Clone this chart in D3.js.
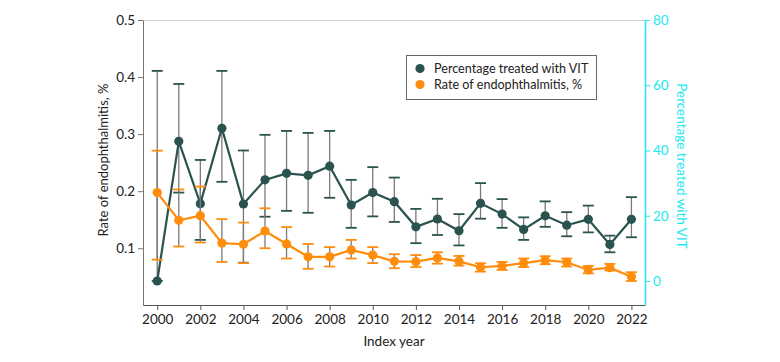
<!DOCTYPE html>
<html><head><meta charset="utf-8">
<script src="https://cdn.jsdelivr.net/npm/d3@7"></script>
<style>
html,body{margin:0;padding:0;background:#fff;}
svg text{font-family:Lato,"Open Sans",sans-serif;}
</style></head>
<body>
<svg id="c" width="780" height="362"></svg>
<script>
const years = [2000,2001,2002,2003,2004,2005,2006,2007,2008,2009,2010,2011,2012,2013,2014,2015,2016,2017,2018,2019,2020,2021,2022];
// Percentage treated with VIT (right axis)
const vitPct = [0,42.8,23.7,46.8,23.6,31.0,33.0,32.4,35.2,23.3,27.1,24.3,16.6,19.0,15.4,23.8,20.5,15.8,20.0,17.1,18.9,11.2,18.9];
const vitLo  = [0,27.1,12.6,30.4,5.6,19.7,21.5,20.9,25.5,16.3,19.8,18.1,11.6,14.1,10.9,19.1,16.3,12.6,16.6,13.7,14.9,8.8,13.4];
const vitHi  = [64.4,60.4,37.1,64.4,40.0,44.8,46.0,45.4,46.0,31.0,34.9,31.7,22.1,25.2,20.5,30.0,25.1,19.5,24.4,21.1,23.1,13.9,25.7];
// Rate of endophthalmitis, % (left axis)
const endoRate = [0.1975,0.149,0.157,0.109,0.107,0.130,0.1075,0.085,0.085,0.097,0.088,0.077,0.0765,0.083,0.077,0.0667,0.069,0.074,0.079,0.0754,0.062,0.066,0.050];
const endoLo   = [0.080,0.103,0.110,0.076,0.074,0.100,0.082,0.064,0.068,0.082,0.074,0.065,0.067,0.073,0.0695,0.059,0.062,0.067,0.072,0.068,0.056,0.061,0.0426];
const endoHi   = [0.271,0.203,0.208,0.151,0.145,0.170,0.137,0.1075,0.102,0.1146,0.102,0.0895,0.088,0.093,0.0865,0.0737,0.076,0.082,0.086,0.082,0.069,0.0725,0.058];
const xTicks = [2000,2002,2004,2006,2008,2010,2012,2014,2016,2018,2020,2022];
const leftTicks = [0.1,0.2,0.3,0.4,0.5];
const rightTicks = [0,20,40,60,80];

const TEAL = "#2a5350", ORANGE = "#ff8c0a", CYAN = "#21e7ee", STEM = "#7a7a7a";
const svg = d3.select("#c");
const x = d3.scaleLinear().domain([1999.34, 2022.63]).range([143, 645]);
const yL = d3.scaleLinear().domain([0, 0.5]).range([305.3, 20]);
const yR = d3.scaleLinear().domain([-7.36, 80]).range([305, 20]);

// top frame
svg.append("line").attr("x1",143).attr("x2",645).attr("y1",20.5).attr("y2",20.5).attr("stroke","#d0d0d0").attr("stroke-width",1);

// axes
const gx = svg.append("g").attr("transform","translate(0,305)")
  .call(d3.axisBottom(x).tickValues(xTicks).tickFormat(d3.format("d")).tickSize(5).tickSizeOuter(0));
gx.selectAll("text").attr("font-size",13.5).attr("fill","#222").attr("dy","0.85em");
gx.select(".domain").attr("stroke","#555");
gx.selectAll(".tick line").attr("stroke","#555");

const gl = svg.append("g").attr("transform","translate(143,0)")
  .call(d3.axisLeft(yL).tickValues(leftTicks).tickFormat(d3.format(".1f")).tickSize(5).tickSizeOuter(0));
gl.selectAll("text").attr("font-size",13.5).attr("fill","#222");
gl.select(".domain").attr("stroke","#777");
gl.selectAll(".tick line").attr("stroke","#777");

const gr = svg.append("g").attr("transform","translate(645,0)")
  .call(d3.axisRight(yR).tickValues(rightTicks).tickSize(5).tickSizeOuter(0));
gr.selectAll("text").attr("font-size",13.5).attr("fill",CYAN);
gr.select(".domain").attr("stroke",CYAN).attr("stroke-width",1.5);
gr.selectAll(".tick line").attr("stroke",CYAN);

// axis titles
svg.append("text").attr("x",394).attr("y",346).attr("text-anchor","middle").attr("font-size",13.5).attr("fill","#222").text("Index year");
svg.append("text").attr("transform","translate(108,160) rotate(-90)").attr("text-anchor","middle").attr("font-size",13).attr("fill","#222").text("Rate of endophthalmitis, %");
svg.append("text").attr("transform","translate(677,166) rotate(90)").attr("text-anchor","middle").attr("font-size",13.5).attr("fill",CYAN).text("Percentage treated with VIT");

function drawSeries(vals, lo, hi, y, color){
  const g = svg.append("g");
  const idx = d3.range(years.length);
  g.selectAll("line.stem").data(idx).join("line").attr("class","stem")
    .attr("x1",i=>x(years[i])).attr("x2",i=>x(years[i]))
    .attr("y1",i=>y(lo[i])).attr("y2",i=>y(hi[i]))
    .attr("stroke",STEM).attr("stroke-width",1.3);
  [lo,hi].forEach(arr=>{
    g.selectAll(null).data(idx).join("line")
      .attr("x1",i=>x(years[i])-5.5).attr("x2",i=>x(years[i])+5.5)
      .attr("y1",i=>y(arr[i])).attr("y2",i=>y(arr[i]))
      .attr("stroke",color).attr("stroke-width",1.8);
  });
  g.append("path").datum(idx)
    .attr("d",d3.line().x(i=>x(years[i])).y(i=>y(vals[i])))
    .attr("fill","none").attr("stroke",color).attr("stroke-width",2.2);
  g.selectAll("circle").data(idx).join("circle")
    .attr("cx",i=>x(years[i])).attr("cy",i=>y(vals[i])).attr("r",4.6).attr("fill",color);
}
drawSeries(vitPct, vitLo, vitHi, yR, TEAL);
drawSeries(endoRate, endoLo, endoHi, yL, ORANGE);

// legend
const lg = svg.append("g");
lg.append("rect").attr("x",406.5).attr("y",55.5).attr("width",190).attr("height",44).attr("fill","#fff").attr("stroke","#666").attr("stroke-width",1);
const legItems = [["Percentage treated with VIT",TEAL],["Rate of endophthalmitis, %",ORANGE]];
legItems.forEach((d,i)=>{
  lg.append("circle").attr("cx",420).attr("cy",68.5+i*16).attr("r",4.6).attr("fill",d[1]);
  lg.append("text").attr("x",434).attr("y",68.5+i*16).attr("dy","0.35em").attr("font-size",12.6).attr("fill","#222").text(d[0]);
});
</script>
</body></html>
